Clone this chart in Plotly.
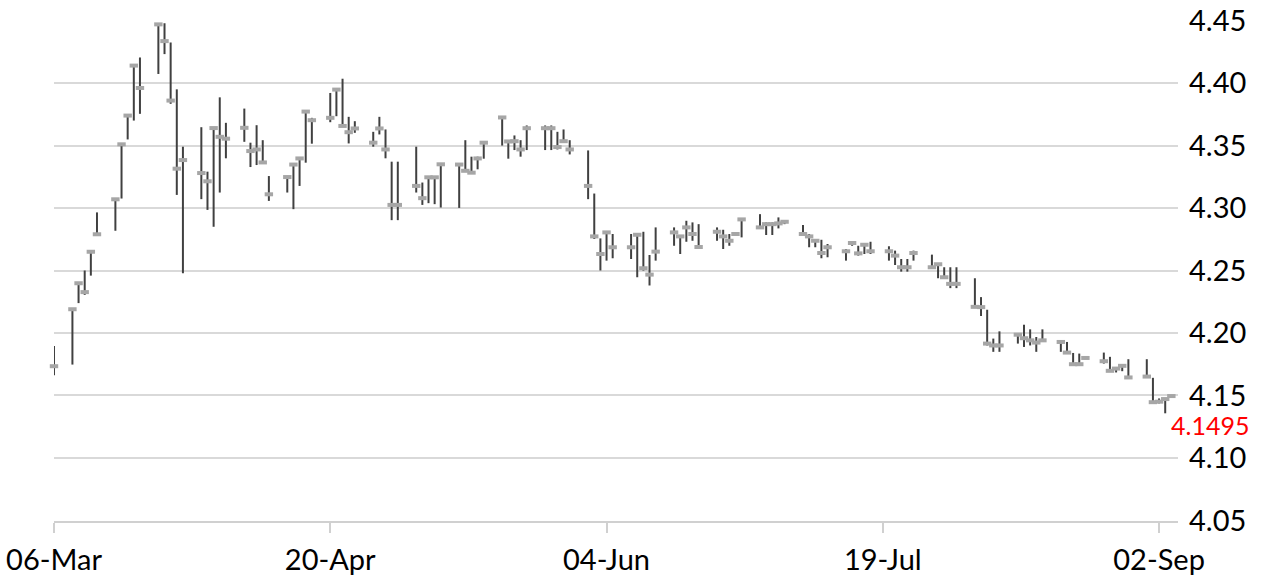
import plotly.graph_objects as go
import pandas as pd

# Business days from 06-Mar-2020 to 04-Sep-2020 (one bar per trading day)
dates = pd.bdate_range("2020-03-06", "2020-09-04")

highs = [
    4.1896, 4.2200, 4.2406, 4.2500, 4.2654, 4.2965, 4.3076, 4.3517, 4.3748, 4.4147,
    4.4205, 4.4474, 4.4479, 4.4325, 4.3950, 4.3491, 4.3647, 4.3291, 4.3642, 4.3886,
    4.3682, 4.3796, 4.3523, 4.3663, 4.3543, 4.3256, 4.3256, 4.3350, 4.3403, 4.3775,
    4.3722, 4.3921, 4.3961, 4.4035, 4.3730, 4.3695, 4.3610, 4.3730, 4.3629, 4.3371,
    4.3371, 4.3491, 4.3204, 4.3248, 4.3248, 4.3358, 4.3350, 4.3543, 4.3411, 4.3411,
    4.3527, 4.3727, 4.3535, 4.3581, 4.3543, 4.3661, 4.3661, 4.3661, 4.3610, 4.3629,
    4.3543, 4.3461, 4.3116, 4.2757, 4.2810, 4.2792, 4.2792, 4.2792, 4.2810, 4.2624,
    4.2845, 4.2845, 4.2778, 4.2898, 4.2885, 4.2871, 4.2845, 4.2826, 4.2792, 4.2805,
    4.2911, 4.2951, 4.2885, 4.2885, 4.2925, 4.2898, 4.2864, 4.2792, 4.2752, 4.2746,
    4.2712, 4.2672, 4.2730, 4.2698, 4.2712, 4.2730, 4.2694, 4.2659, 4.2592, 4.2592,
    4.2659, 4.2627, 4.2552, 4.2526, 4.2526, 4.2526, 4.2438, 4.2287, 4.2186, 4.1955,
    4.2013, 4.1994, 4.2066, 4.2029, 4.1968, 4.2029, 4.1941, 4.1928, 4.1840, 4.1835,
    4.1809, 4.1843, 4.1809, 4.1722, 4.1747, 4.1790, 4.1790, 4.1641, 4.1476, 4.1476,
    4.1503,
]
lows = [
    4.1662, 4.1747, 4.2239, 4.2305, 4.2459, 4.2786, 4.2818, 4.3076, 4.3549, 4.3700,
    4.3754, 4.4073, 4.4232, 4.3834, 4.3105, 4.2478, 4.3071, 4.2985, 4.2850, 4.3124,
    4.3398, 4.3530, 4.3328, 4.3344, 4.3363, 4.3057, 4.3124, 4.2991, 4.3177, 4.3363,
    4.3515, 4.3687, 4.3735, 4.3655, 4.3517, 4.3602, 4.3491, 4.3589, 4.3398, 4.2903,
    4.2903, 4.3124, 4.3025, 4.3039, 4.3031, 4.3004, 4.3001, 4.3296, 4.3278, 4.3310,
    4.3395, 4.3500, 4.3395, 4.3464, 4.3411, 4.3464, 4.3464, 4.3464, 4.3469, 4.3523,
    4.3429, 4.3071, 4.2752, 4.2500, 4.2579, 4.2598, 4.2592, 4.2446, 4.2499, 4.2380,
    4.2579, 4.2698, 4.2632, 4.2730, 4.2738, 4.2686, 4.2738, 4.2672, 4.2698, 4.2778,
    4.2765, 4.2837, 4.2784, 4.2784, 4.2837, 4.2871, 4.2778, 4.2686, 4.2686, 4.2598,
    4.2606, 4.2579, 4.2698, 4.2619, 4.2632, 4.2632, 4.2579, 4.2544, 4.2491, 4.2491,
    4.2579, 4.2513, 4.2438, 4.2433, 4.2359, 4.2359, 4.2207, 4.2136, 4.1900, 4.1849,
    4.1849, 4.1915, 4.1888, 4.1900, 4.1849, 4.1928, 4.1849, 4.1840, 4.1742, 4.1742,
    4.1790, 4.1755, 4.1694, 4.1684, 4.1694, 4.1636, 4.1649, 4.1444, 4.1436, 4.1357,
    4.1482,
]
closes = [
    4.1734, 4.2190, 4.2398, 4.2327, 4.2650, 4.2790, 4.3070, 4.3510, 4.3740, 4.4140,
    4.3961, 4.4470, 4.4336, 4.3860, 4.3315, 4.3384, 4.3280, 4.3214, 4.3640, 4.3570,
    4.3555, 4.3642, 4.3456, 4.3469, 4.3365, 4.3110, 4.3248, 4.3348, 4.3397, 4.3772,
    4.3703, 4.3722, 4.3948, 4.3657, 4.3607, 4.3637, 4.3523, 4.3637, 4.3469, 4.3025,
    4.3025, 4.3177, 4.3079, 4.3246, 4.3246, 4.3350, 4.3348, 4.3298, 4.3283, 4.3397,
    4.3523, 4.3725, 4.3533, 4.3535, 4.3469, 4.3639, 4.3639, 4.3639, 4.3488, 4.3535,
    4.3469, 4.3177, 4.2773, 4.2632, 4.2805, 4.2686, 4.2686, 4.2786, 4.2518, 4.2467,
    4.2651, 4.2805, 4.2773, 4.2845, 4.2792, 4.2688, 4.2810, 4.2773, 4.2738, 4.2792,
    4.2909, 4.2845, 4.2871, 4.2871, 4.2877, 4.2890, 4.2792, 4.2773, 4.2738, 4.2640,
    4.2686, 4.2654, 4.2720, 4.2637, 4.2706, 4.2654, 4.2654, 4.2619, 4.2526, 4.2526,
    4.2640, 4.2526, 4.2550, 4.2446, 4.2393, 4.2393, 4.2209, 4.2207, 4.1915, 4.1900,
    4.1900, 4.1986, 4.1958, 4.1941, 4.1923, 4.1941, 4.1928, 4.1843, 4.1750, 4.1750,
    4.1800, 4.1774, 4.1697, 4.1715, 4.1737, 4.1644, 4.1651, 4.1446, 4.1450, 4.1471,
    4.1495,
]

tick_start = "2020-03-06"
last_label = "4.1495"

n = min(len(dates), len(highs), len(lows), len(closes))
dates = list(dates[:n])
highs, lows, closes = highs[:n], lows[:n], closes[:n]

up = [h - c for h, c in zip(highs, closes)]
down = [c - l for c, l in zip(closes, lows)]

FONT = "Lato"

fig = go.Figure()
fig.add_trace(go.Scatter(
    x=dates, y=closes, mode="markers",
    error_y=dict(type="data", symmetric=False, array=up, arrayminus=down,
                 width=0, thickness=2, color="#404040"),
    marker=dict(symbol="line-ew", size=6,
                line=dict(width=4, color="#A6A6A6"), color="#A6A6A6"),
    cliponaxis=False, showlegend=False, hoverinfo="x+y",
))

fig.add_annotation(
    x=dates[-1], y=closes[-1], text=last_label, showarrow=False,
    xanchor="left", yanchor="middle", xshift=-2, yshift=-29,
    font=dict(family=FONT, size=25, color="#FF0000"),
)

fig.update_layout(
    width=1277, height=579,
    margin=dict(l=54, r=99, t=20, b=58),
    paper_bgcolor="white", plot_bgcolor="white",
    font=dict(family=FONT, size=29, color="#000000"),
    showlegend=False,
)
fig.update_xaxes(
    type="date", range=["2020-03-06", "2020-09-05 02:00"],
    tickmode="linear", tick0=tick_start, dtick=45 * 86400000,
    tickformat="%d-%b", showgrid=False, automargin=False,
    showline=True, linecolor="#D0D0D0", linewidth=2,
    ticks="outside", ticklen=10, tickwidth=1.5, tickcolor="#D0D0D0",
    ticklabelstandoff=2,
)
fig.update_yaxes(
    side="right", range=[4.0495, 4.4505], automargin=False,
    tickmode="linear", tick0=4.05, dtick=0.05, tickformat=".2f",
    showgrid=True, gridcolor="#D9D9D9", gridwidth=2,
    zeroline=False, showline=False, ticks="", ticklabelstandoff=10,
)

fig.write_html(
    "out.html",
    config={"displayModeBar": False},
    post_script="document.body.style.margin='0';document.body.style.padding='0';document.body.style.overflow='hidden';",
)
